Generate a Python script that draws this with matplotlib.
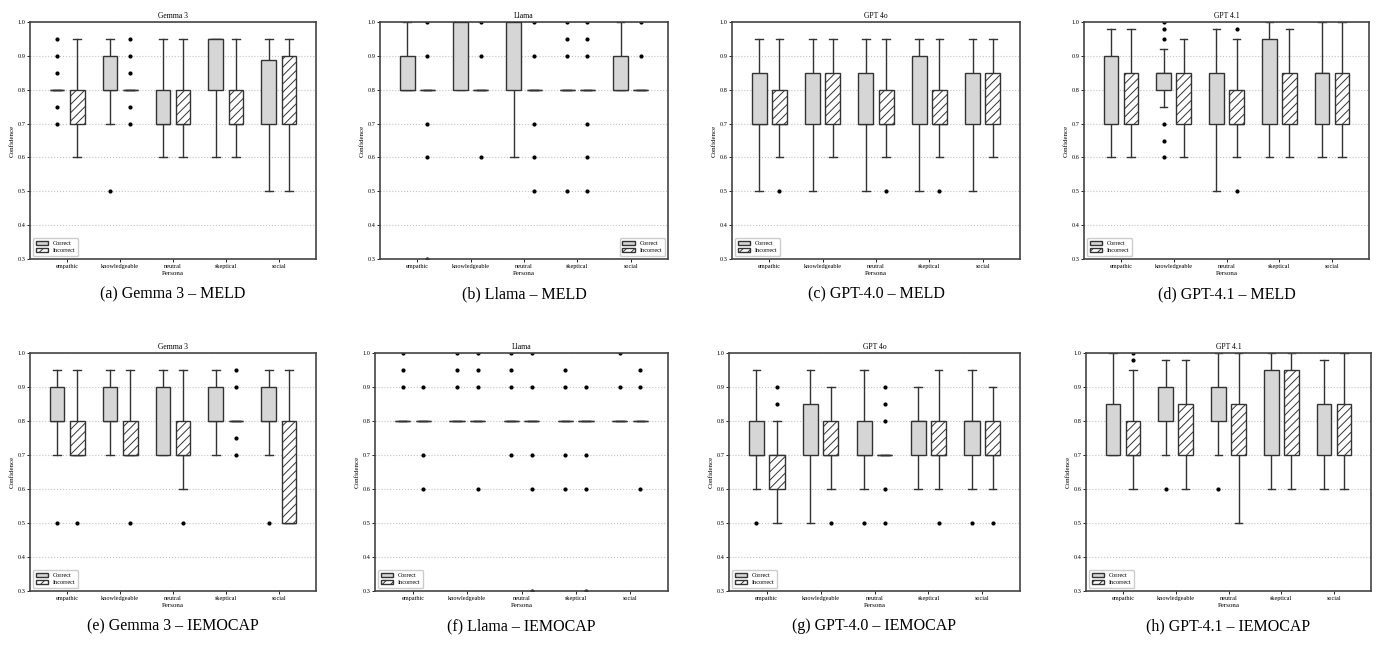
import matplotlib
matplotlib.use("Agg")
import matplotlib.pyplot as plt
from matplotlib.patches import Patch

plt.rcParams['font.family'] = ['Liberation Serif', 'DejaVu Serif']
plt.rcParams['hatch.linewidth'] = 0.7

personas = ['empathic', 'knowledgeable', 'neutral', 'skeptical', 'social']

# each box: (whisker low, q1, median, q3, whisker high, fliers)
gemma_meld_correct = [(0.8, 0.8, 0.8, 0.8, 0.8, [0.95, 0.9, 0.85, 0.75, 0.7]),
                      (0.7, 0.8, 0.8, 0.9, 0.95, [0.5]),
                      (0.6, 0.7, 0.7, 0.8, 0.95, []),
                      (0.6, 0.8, 0.95, 0.95, 0.95, []),
                      (0.5, 0.7, 0.8, 0.887, 0.95, [])]
gemma_meld_incorrect = [(0.6, 0.7, 0.75, 0.8, 0.95, []),
                        (0.8, 0.8, 0.8, 0.8, 0.8, [0.95, 0.9, 0.85, 0.75, 0.7]),
                        (0.6, 0.7, 0.7, 0.8, 0.95, []),
                        (0.6, 0.7, 0.7, 0.8, 0.95, []),
                        (0.5, 0.7, 0.8, 0.9, 0.95, [])]

llama_meld_correct = [(0.8, 0.8, 0.8, 0.9, 1.0, []),
                      (0.8, 0.8, 0.9, 1.0, 1.0, []),
                      (0.6, 0.8, 0.9, 1.0, 1.0, []),
                      (0.8, 0.8, 0.8, 0.8, 0.8, [1.0, 0.95, 0.9, 0.5]),
                      (0.8, 0.8, 0.8, 0.9, 1.0, [])]
llama_meld_incorrect = [(0.8, 0.8, 0.8, 0.8, 0.8, [1.0, 0.9, 0.7, 0.6, 0.3]),
                        (0.8, 0.8, 0.8, 0.8, 0.8, [1.0, 0.9, 0.6]),
                        (0.8, 0.8, 0.8, 0.8, 0.8, [1.0, 0.9, 0.7, 0.6, 0.5]),
                        (0.8, 0.8, 0.8, 0.8, 0.8, [1.0, 0.95, 0.9, 0.7, 0.6, 0.5]),
                        (0.8, 0.8, 0.8, 0.8, 0.8, [1.0, 0.9])]

gpt4o_meld_correct = [(0.5, 0.7, 0.7, 0.85, 0.95, []),
                      (0.5, 0.7, 0.8, 0.85, 0.95, []),
                      (0.5, 0.7, 0.7, 0.85, 0.95, []),
                      (0.5, 0.7, 0.8, 0.9, 0.95, []),
                      (0.5, 0.7, 0.8, 0.85, 0.95, [])]
gpt4o_meld_incorrect = [(0.6, 0.7, 0.7, 0.8, 0.95, [0.5]),
                        (0.6, 0.7, 0.75, 0.85, 0.95, []),
                        (0.6, 0.7, 0.7, 0.8, 0.95, [0.5]),
                        (0.6, 0.7, 0.7, 0.8, 0.95, [0.5]),
                        (0.6, 0.7, 0.8, 0.85, 0.95, [])]

gpt41_meld_correct = [(0.6, 0.7, 0.85, 0.9, 0.98, []),
                      (0.75, 0.8, 0.85, 0.85, 0.92, [1.0, 0.98, 0.95, 0.7, 0.65, 0.6]),
                      (0.5, 0.7, 0.8, 0.85, 0.98, []),
                      (0.6, 0.7, 0.85, 0.95, 1.0, []),
                      (0.6, 0.7, 0.85, 0.85, 1.0, [])]
gpt41_meld_incorrect = [(0.6, 0.7, 0.75, 0.85, 0.98, []),
                        (0.6, 0.7, 0.8, 0.85, 0.95, []),
                        (0.6, 0.7, 0.7, 0.8, 0.95, [0.98, 0.5]),
                        (0.6, 0.7, 0.8, 0.85, 0.98, []),
                        (0.6, 0.7, 0.75, 0.85, 1.0, [])]

gemma_iemo_correct = [(0.7, 0.8, 0.8, 0.9, 0.95, [0.5]),
                      (0.7, 0.8, 0.8, 0.9, 0.95, []),
                      (0.7, 0.7, 0.8, 0.9, 0.95, []),
                      (0.7, 0.8, 0.8, 0.9, 0.95, []),
                      (0.7, 0.8, 0.8, 0.9, 0.95, [0.5])]
gemma_iemo_incorrect = [(0.7, 0.7, 0.7, 0.8, 0.95, [0.5]),
                        (0.7, 0.7, 0.7, 0.8, 0.95, [0.5]),
                        (0.6, 0.7, 0.7, 0.8, 0.95, [0.5]),
                        (0.8, 0.8, 0.8, 0.8, 0.8, [0.95, 0.9, 0.75, 0.7]),
                        (0.5, 0.5, 0.5, 0.8, 0.95, [])]

llama_iemo_correct = [(0.8, 0.8, 0.8, 0.8, 0.8, [1.0, 0.95, 0.9]),
                      (0.8, 0.8, 0.8, 0.8, 0.8, [1.0, 0.95, 0.9]),
                      (0.8, 0.8, 0.8, 0.8, 0.8, [1.0, 0.95, 0.9, 0.7]),
                      (0.8, 0.8, 0.8, 0.8, 0.8, [0.95, 0.9, 0.7, 0.6]),
                      (0.8, 0.8, 0.8, 0.8, 0.8, [1.0, 0.9])]
llama_iemo_incorrect = [(0.8, 0.8, 0.8, 0.8, 0.8, [0.9, 0.7, 0.6]),
                        (0.8, 0.8, 0.8, 0.8, 0.8, [1.0, 0.95, 0.9, 0.6]),
                        (0.8, 0.8, 0.8, 0.8, 0.8, [1.0, 0.9, 0.7, 0.6, 0.3]),
                        (0.8, 0.8, 0.8, 0.8, 0.8, [0.9, 0.7, 0.6, 0.3]),
                        (0.8, 0.8, 0.8, 0.8, 0.8, [0.95, 0.9, 0.6])]

gpt4o_iemo_correct = [(0.6, 0.7, 0.7, 0.8, 0.95, [0.5]),
                      (0.5, 0.7, 0.8, 0.85, 0.95, []),
                      (0.6, 0.7, 0.7, 0.8, 0.95, [0.5]),
                      (0.6, 0.7, 0.8, 0.8, 0.9, []),
                      (0.6, 0.7, 0.8, 0.8, 0.95, [0.5])]
gpt4o_iemo_incorrect = [(0.5, 0.6, 0.7, 0.7, 0.8, [0.9, 0.85]),
                        (0.6, 0.7, 0.7, 0.8, 0.9, [0.5]),
                        (0.7, 0.7, 0.7, 0.7, 0.7, [0.9, 0.85, 0.8, 0.6, 0.5]),
                        (0.6, 0.7, 0.7, 0.8, 0.95, [0.5]),
                        (0.6, 0.7, 0.7, 0.8, 0.9, [0.5])]

gpt41_iemo_correct = [(0.7, 0.7, 0.8, 0.85, 1.0, []),
                      (0.7, 0.8, 0.85, 0.9, 0.98, [0.6]),
                      (0.7, 0.8, 0.85, 0.9, 1.0, [0.6]),
                      (0.6, 0.7, 0.85, 0.95, 1.0, []),
                      (0.6, 0.7, 0.8, 0.85, 0.98, [])]
gpt41_iemo_incorrect = [(0.6, 0.7, 0.7, 0.8, 0.95, [1.0, 0.98]),
                        (0.6, 0.7, 0.8, 0.85, 0.98, []),
                        (0.5, 0.7, 0.8, 0.85, 1.0, []),
                        (0.6, 0.7, 0.8, 0.95, 1.0, []),
                        (0.6, 0.7, 0.8, 0.85, 1.0, [])]

titles = ['Gemma 3', 'Llama', 'GPT 4o', 'GPT 4.1'] * 2
captions = ['(a) Gemma 3 – MELD', '(b) Llama – MELD', '(c) GPT-4.0 – MELD', '(d) GPT-4.1 – MELD',
            '(e) Gemma 3 – IEMOCAP', '(f) Llama – IEMOCAP', '(g) GPT-4.0 – IEMOCAP', '(h) GPT-4.1 – IEMOCAP']
panels = [(gemma_meld_correct, gemma_meld_incorrect), (llama_meld_correct, llama_meld_incorrect),
          (gpt4o_meld_correct, gpt4o_meld_incorrect), (gpt41_meld_correct, gpt41_meld_incorrect),
          (gemma_iemo_correct, gemma_iemo_incorrect), (llama_iemo_correct, llama_iemo_incorrect),
          (gpt4o_iemo_correct, gpt4o_iemo_incorrect), (gpt41_iemo_correct, gpt41_iemo_incorrect)]
legend_loc = ['lower left', 'lower right', 'lower left', 'lower left'] + ['lower left'] * 4

W, H = 1379, 651
# axes boxes in pixels: left, top, width, height
boxes = [(30, 22, 286, 237), (380, 22, 288, 237), (732, 22, 288, 237), (1084, 22, 285, 237),
         (30, 353, 286, 238), (375, 353, 293, 238), (729, 353, 291, 238), (1086, 353, 285, 238)]

EDGE = '#333333'


def to_stats(rows):
    out = []
    for wlo, q1, med, q3, whi, fl in rows:
        out.append(dict(whislo=wlo, q1=q1, med=med, q3=q3, whishi=whi, fliers=fl))
    return out


def draw_group(ax, rows, offset, face, hatch):
    pos = [i + offset for i in range(len(rows))]
    bp = ax.bxp(to_stats(rows), positions=pos, widths=0.28, patch_artist=True,
                showfliers=True, manage_ticks=False,
                boxprops=dict(facecolor=face, edgecolor=EDGE, linewidth=1.0, hatch=hatch),
                medianprops=dict(color=EDGE, linewidth=1.0),
                whiskerprops=dict(color=EDGE, linewidth=1.0),
                capprops=dict(color=EDGE, linewidth=1.0),
                flierprops=dict(marker='o', markersize=2, markerfacecolor='black',
                                markeredgecolor='black'))
    for b in bp['boxes']:
        b.set_zorder(3)


fig = plt.figure(figsize=(W / 100, H / 100), dpi=100)

for k, (correct, incorrect) in enumerate(panels):
    l, t, w, h = boxes[k]
    ax = fig.add_axes([l / W, 1 - (t + h) / H, w / W, h / H])
    draw_group(ax, correct, -0.19, '#d6d6d6', None)
    draw_group(ax, incorrect, 0.19, 'white', '////')
    ax.set_xlim(-0.7, 4.7)
    ax.set_ylim(0.3, 1.0)
    ax.set_xticks(range(len(personas)))
    ax.set_xticklabels(personas)
    ax.set_yticks([0.3, 0.4, 0.5, 0.6, 0.7, 0.8, 0.9, 1.0])
    ax.tick_params(labelsize=4.5, length=2, width=0.6, pad=1.5)
    ax.yaxis.grid(True, linestyle=':', color='#c4c4c4', linewidth=0.8)
    ax.set_axisbelow(True)
    for s in ax.spines.values():
        s.set_linewidth(1.2)
        s.set_color('#444444')
    ax.set_title(titles[k], fontsize=5.5, pad=3)
    ax.set_ylabel('Confidence', fontsize=5, labelpad=2)
    ax.set_xlabel('Persona', fontsize=5, labelpad=1.5)
    handles = [Patch(facecolor='#d6d6d6', edgecolor=EDGE, label='Correct'),
               Patch(facecolor='white', edgecolor=EDGE, hatch='////', label='Incorrect')]
    ax.legend(handles=handles, loc=legend_loc[k], fontsize=4.5, handlelength=2.0,
              handleheight=0.7, borderpad=0.4, labelspacing=0.3, framealpha=1)
    cx = (l + w / 2) / W
    cy = 1 - (t + h + 35) / H
    fig.text(cx, cy, captions[k], ha='center', va='center', fontsize=11.5,
             family=['Liberation Serif', 'DejaVu Serif'])

fig.savefig('out.png', dpi=100)
